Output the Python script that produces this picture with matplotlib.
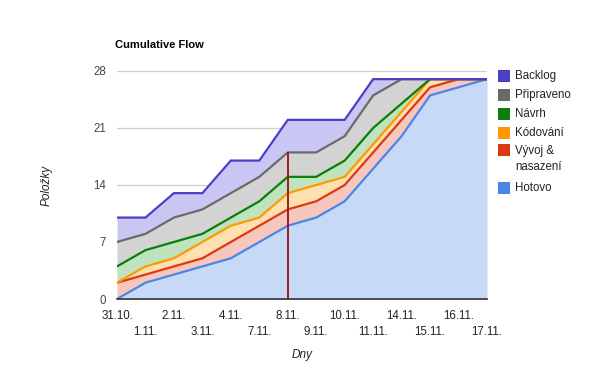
import matplotlib
matplotlib.use("Agg")
import matplotlib.pyplot as plt
from matplotlib.patches import Rectangle
import numpy as np

plt.rcParams['font.family'] = ['Liberation Sans', 'DejaVu Sans']

days = ["31.10.", "1.11.", "2.11.", "3.11.", "4.11.", "7.11.", "8.11.",
        "9.11.", "10.11.", "11.11.", "14.11.", "15.11.", "16.11.", "17.11."]
backlog    = [10, 10, 13, 13, 17, 17, 22, 22, 22, 27, 27, 27, 27, 27]
pripraveno = [7, 8, 10, 11, 13, 15, 18, 18, 20, 25, 27, 27, 27, 27]
navrh      = [4, 6, 7, 8, 10, 12, 15, 15, 17, 21, 24, 27, 27, 27]
kodovani   = [2, 4, 5, 7, 9, 10, 13, 14, 15, 19, 23, 27, 27, 27]
vyvoj      = [2, 3, 4, 5, 7, 9, 11, 12, 14, 18, 22, 26, 27, 27]
hotovo     = [0, 2, 3, 4, 5, 7, 9, 10, 12, 16, 20, 25, 26, 27]
series_names = ["Backlog", "Připraveno", "Návrh", "Kódování", "Vývoj &\nnasazení", "Hotovo"]
marker_day = "8.11."
yticks = [0, 7, 14, 21, 28]

series = [backlog, pripraveno, navrh, kodovani, vyvoj, hotovo]
line_colors = ["#4b3fc8", "#6a6a6a", "#0a7d0a", "#ff9900", "#dc3912", "#4a86e8"]
fill_colors = ["#c9c6f3", "#d3d3d3", "#bfe3bf", "#ffe0b0", "#f7c6bd", "#c6d9f7"]

W, H = 600, 371
fig = plt.figure(figsize=(W/100, H/100), dpi=100)
ax = fig.add_axes([117/W, 1-299/H, (487-117)/W, (299-71)/H])

x = np.arange(len(days))
for i, s in enumerate(series):
    lower = series[i+1] if i + 1 < len(series) else [0]*len(s)
    ax.fill_between(x, lower, s, color=fill_colors[i], linewidth=0, zorder=1)
for i, s in reversed(list(enumerate(series))):
    ax.plot(x, s, color=line_colors[i], linewidth=1.6, zorder=3, solid_joinstyle='miter')

mi = days.index(marker_day)
ax.vlines(mi, 0, pripraveno[mi], color="#9b1c1c", linewidth=1.4, zorder=4)

ax.set_xlim(0, len(days)-1)
ax.set_ylim(0, 28)
ax.set_yticks(yticks)
ax.set_yticklabels([str(v) for v in yticks], fontsize=8.3, color="#444444")
for v in yticks[1:]:
    ax.axhline(v, color="#cccccc", linewidth=0.9, zorder=0.5)
ax.set_xticks(x)
ax.set_xticklabels([d if i % 2 == 0 else "\n" + d for i, d in enumerate(days)],
                   fontsize=8.3, color="#222222", linespacing=1.45)
ax.tick_params(axis='x', length=0, pad=8)
ax.tick_params(axis='y', length=0, pad=8)
for sp in ["top", "right", "left"]:
    ax.spines[sp].set_visible(False)
ax.spines["bottom"].set_color("#333333")
ax.spines["bottom"].set_linewidth(1.2)
ax.spines["bottom"].set_zorder(5)

fig.text(115/W, 1-45/H, "Cumulative Flow", fontsize=8, fontweight='bold', va='center', ha='left')
fig.text(47/W, 1-185/H, "Položky", fontsize=8.5, style='italic', rotation=90, va='center', ha='center', color="#222222")
fig.text(302/W, 1-355/H, "Dny", fontsize=8.5, style='italic', va='center', ha='center', color="#222222")

ys = [76, 95, 114, 133, 150, 188]
for i, name in enumerate(series_names):
    y = ys[i]
    fig.patches.append(Rectangle((498/W, 1-(y+6)/H), 12/W, 12/H, transform=fig.transFigure,
                                 facecolor=line_colors[i], edgecolor='none'))
    fig.text(515/W, 1-y/H if "\n" not in name else 1-(y+9)/H, name, fontsize=8.3, va='center', ha='left',
             color="#222222", linespacing=1.45)

fig.savefig("out.png", dpi=100)
